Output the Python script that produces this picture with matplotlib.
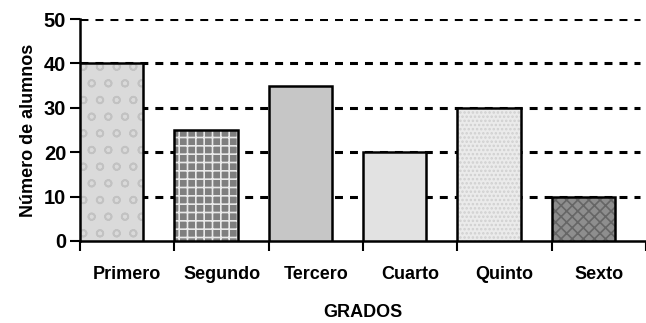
import matplotlib.pyplot as plt
import numpy as np

grados = ['Primero', 'Segundo', 'Tercero', 'Cuarto', 'Quinto', 'Sexto']
alumnos = [40, 25, 35, 20, 30, 10]
y_ticks = [0, 10, 20, 30, 40, 50]

# texture imitation: base grey, hatch pattern, hatch grey
fills = ['#dadada', '#7e7e7e', '#c6c6c6', '#e2e2e2', '#ebebeb', '#8e8e8e']
hatches = ['o', '++', None, None, '....', 'xxx']
hatch_cols = ['#c2c2c2', '#e8e8e8', None, None, '#d0d0d0', '#666666']

plt.rcParams['font.family'] = ['Liberation Sans', 'DejaVu Sans']
plt.rcParams['font.weight'] = 'bold'
plt.rcParams['hatch.linewidth'] = 1.2

fig = plt.figure(figsize=(6.46, 3.23), dpi=100)
ax = fig.add_axes([0.124, 0.254, 0.876, 0.687])

x = np.arange(len(grados))
w = 0.67
for i in range(len(grados)):
    if hatches[i]:
        ax.bar(x[i], alumnos[i], width=w, align='edge', color=fills[i],
               hatch=hatches[i], edgecolor=hatch_cols[i], linewidth=0, zorder=3)
    else:
        ax.bar(x[i], alumnos[i], width=w, align='edge', color=fills[i],
               linewidth=0, zorder=3)
    ax.bar(x[i], alumnos[i], width=w, align='edge', fill=False,
           edgecolor='black', linewidth=1.8, zorder=4)

for t in y_ticks[1:]:
    ax.axhline(t, color='black', linestyle=(0, (2.6, 2.3)), linewidth=2.2, zorder=1,
               xmax=0.99)

ax.set_xlim(0, 6)
ax.set_ylim(0, 50)
ax.set_yticks(y_ticks)
ax.set_xticks(np.arange(0, 7))
ax.set_xticklabels([])
ax.set_xticks(x + 0.5, minor=True)
ax.set_xticklabels(grados, minor=True, fontsize=13, fontweight='bold')
ax.tick_params(axis='x', which='minor', length=0, pad=18)
ax.tick_params(axis='x', which='major', length=7, width=1.5, direction='out')
ax.tick_params(axis='y', length=7, width=1.5, labelsize=14.5, pad=3)
for lab in ax.get_yticklabels():
    lab.set_fontweight('bold')

for s in ['top', 'right']:
    ax.spines[s].set_visible(False)
ax.spines['left'].set_linewidth(1.8)
ax.spines['bottom'].set_linewidth(1.8)

ax.set_xlabel('GRADOS', fontsize=13, fontweight='bold', labelpad=15)
ax.set_ylabel('Número de alumnos', fontsize=13, fontweight='bold', labelpad=5)

fig.savefig('out.png', dpi=100)
